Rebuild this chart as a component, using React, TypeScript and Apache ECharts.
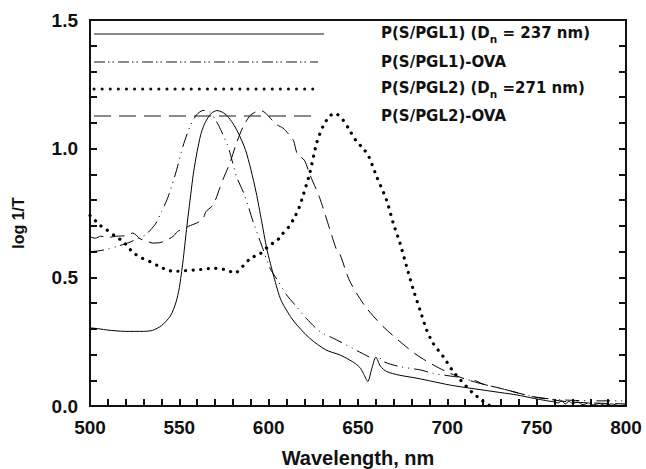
import React, { useEffect, useRef } from "react";
import * as echarts from "echarts";

// Wavelength (nm) vs log 1/T
const pgl1: [number, number][] = [
  [500, 0.304], [505, 0.3], [510, 0.295], [520, 0.29], [530, 0.29], [535, 0.294], [540, 0.312],
  [545, 0.35], [548, 0.4], [550, 0.46], [552, 0.56], [554, 0.685], [556, 0.8], [558, 0.91],
  [560, 0.99], [562, 1.055], [564, 1.095], [566, 1.12], [568, 1.138], [571, 1.148], [574, 1.142],
  [577, 1.126], [580, 1.098], [583, 1.061], [587, 0.996], [590, 0.92], [593, 0.83], [596, 0.72],
  [599, 0.61], [603, 0.5], [607, 0.41], [614, 0.33], [623, 0.263], [632, 0.218], [640, 0.198],
  [647, 0.172], [651, 0.15], [653, 0.127], [655.5, 0.095], [657.5, 0.14], [660, 0.19], [662.5, 0.155],
  [666, 0.134], [673, 0.12], [683, 0.108], [692, 0.095], [701, 0.082], [710, 0.072], [720, 0.062],
  [730, 0.052], [739, 0.043], [748, 0.03], [752, 0.025], [756, 0.02], [759, 0.017], [762, 0.012],
  [764, 0.02], [766, 0.008], [768, 0.018], [770, 0.01], [773, 0.015], [776, 0.005], [779, 0.012],
  [782, 0.004], [785, 0.01], [788, 0.003], [792, 0.008], [796, 0.002], [800, 0.004],
];

const pgl1Ova: [number, number][] = [
  [500, 0.6], [505, 0.603], [510, 0.61], [515, 0.62], [521, 0.633], [526, 0.648], [531, 0.665],
  [534, 0.685], [537, 0.711], [540, 0.755], [543, 0.8], [546, 0.86], [548.5, 0.918], [552, 1.009],
  [556, 1.087], [559.7, 1.132], [563.4, 1.149], [567, 1.142], [570, 1.115], [572, 1.09], [576.5, 1.022],
  [578.5, 0.98], [582, 0.892], [586, 0.828], [588.6, 0.776], [591.4, 0.714], [596, 0.626], [600.7, 0.536],
  [605.4, 0.484], [610, 0.432], [615.6, 0.386], [621, 0.341], [628.7, 0.289], [638, 0.257], [647, 0.224],
  [655, 0.195], [660, 0.18], [663, 0.185], [665, 0.17], [673.5, 0.153], [685, 0.14], [692, 0.127],
  [703, 0.115], [708, 0.11], [711, 0.101], [715, 0.1], [720, 0.085], [729.5, 0.069], [740, 0.05],
  [748, 0.036], [760, 0.026], [770, 0.022], [785, 0.02], [800, 0.02],
];

const pgl2: [number, number][] = [
  [500, 0.74], [503, 0.72], [506, 0.7], [509.3, 0.685], [514, 0.66], [518.6, 0.639], [524, 0.597],
  [529, 0.575], [533.6, 0.561], [538, 0.545], [543, 0.529], [547, 0.523], [552, 0.525], [560, 0.529],
  [569, 0.535], [576.5, 0.529], [581, 0.516], [585.8, 0.545], [590, 0.575], [595, 0.59], [600.7, 0.626],
  [604.4, 0.64], [607.2, 0.665], [611, 0.694], [614, 0.727], [617, 0.77], [619.4, 0.821], [623, 0.905],
  [627, 1.025], [630.6, 1.09], [634, 1.125], [637, 1.138], [641.8, 1.11], [645, 1.075], [649, 1.03],
  [653, 1.0], [656, 0.97], [660.4, 0.892], [666, 0.8], [669.7, 0.711], [673.5, 0.633], [677.2, 0.542],
  [681, 0.451], [684.7, 0.373], [688.4, 0.296], [692, 0.244], [697.7, 0.192], [703.3, 0.134],
  [710.8, 0.075], [714.5, 0.049], [719.2, 0.023], [722, 0.006], [726, 0],
];

const pgl2Ova: [number, number][] = [
  [500, 0.657], [503, 0.652], [506, 0.66], [510, 0.655], [515, 0.66], [520, 0.662], [524, 0.672],
  [528, 0.65], [532, 0.64], [535, 0.633], [539, 0.635], [542, 0.641], [546.5, 0.659], [549, 0.678],
  [552, 0.688], [555, 0.698], [560, 0.712], [563, 0.725], [565, 0.756], [569, 0.782], [572.7, 0.848],
  [575, 0.89], [578.3, 0.944], [582, 1.022], [585.8, 1.087], [589.5, 1.128], [592, 1.14], [595, 1.149],
  [598, 1.14], [601, 1.118], [604, 1.095], [608, 1.08], [612, 1.05], [614, 1.03], [616, 0.98],
  [620, 0.955], [623, 0.9], [628.5, 0.81], [634.3, 0.685], [638, 0.607], [640, 0.588], [643.6, 0.516],
  [645.5, 0.484], [649.2, 0.438], [654.8, 0.38], [664, 0.309], [673.5, 0.25], [683, 0.198], [692, 0.16],
  [701.5, 0.127], [714.5, 0.095], [729.5, 0.069], [748, 0.036], [758, 0.025], [766.7, 0.017],
  [780, 0.012], [790, 0.01], [800, 0.008],
];

const seriesNames = [
  "P(S/PGL1) (Dn = 237 nm)",
  "P(S/PGL1)-OVA",
  "P(S/PGL2) (Dn =271 nm)",
  "P(S/PGL2)-OVA",
];
const legendTexts = [
  "P(S/PGL1) (D{sub|n} = 237 nm)",
  "P(S/PGL1)-OVA",
  "P(S/PGL2) (D{sub|n} =271 nm)",
  "P(S/PGL2)-OVA",
];
const xAxisTitle = "Wavelength, nm";
const yAxisTitle = "log 1/T";
const xTicks = { min: 500, max: 800, interval: 50 };
const yTicks = { min: 0, max: 1.5, interval: 0.5 };

const FONT = "Liberation Sans, Arial, Helvetica, sans-serif";
const LEGEND_FONT = "DejaVu Sans, Liberation Sans, sans-serif";

export default function App() {
  const ref = useRef<HTMLDivElement>(null);
  useEffect(() => {
    if (!ref.current) return;
    const chart = echarts.init(ref.current, undefined, { renderer: "svg" });

    const axisLine = () => ({ show: true, onZero: false, lineStyle: { color: "#111", width: 2 } });
    const tick = () => ({ show: true, inside: true, length: 7, lineStyle: { color: "#111", width: 2 } });
    const minor = () => ({ show: true, splitNumber: 5, length: 7, lineStyle: { color: "#111", width: 2 } });

    const dashStyles: any[] = [
      { type: "solid", width: 1 },
      { type: [14, 5, 1, 5, 1, 5], width: 1 },
      { type: [0.1, 7.5], width: 3.2, cap: "round" },
      { type: [14, 7], width: 1 },
    ];
    const datasets = [pgl1, pgl1Ova, pgl2, pgl2Ova];

    const legendY = [34, 62, 89, 116];
    const legendEnd = [324, 318, 320, 312];
    const legendLine: any[] = [
      { stroke: "#8a8a8a", lineWidth: 2 },
      { stroke: "#8a8a8a", lineWidth: 2, lineDash: [11, 3, 1.5, 3, 1.5, 4] },
      { stroke: "#111", lineWidth: 3, lineDash: [0.1, 8], lineCap: "round" },
      { stroke: "#8a8a8a", lineWidth: 2, lineDash: [17, 8] },
    ];
    const textY = [33, 62, 88, 116];

    const graphic: any[] = [];
    legendY.forEach((y, i) => {
      graphic.push({
        type: "line",
        shape: { x1: 94, y1: y, x2: legendEnd[i], y2: y },
        style: legendLine[i],
        silent: true,
      });
      graphic.push({
        type: "text",
        x: 381,
        y: textY[i],
        style: {
          text: legendTexts[i],
          fill: "#111",
          fontSize: 15,
          fontWeight: "bold",
          fontFamily: LEGEND_FONT,
          verticalAlign: "middle",
          lineHeight: 22,
          rich: {
            sub: { fontSize: 10.5, lineHeight: 11, verticalAlign: "bottom", fontWeight: "bold", fontFamily: LEGEND_FONT, fill: "#111" },
          },
        },
      });
    });
    graphic.push({
      type: "text",
      x: 358,
      y: 458,
      style: { text: xAxisTitle, fill: "#111", fontSize: 20, fontWeight: "bold", fontFamily: FONT, align: "center", verticalAlign: "middle" },
    });
    graphic.push({
      type: "text",
      x: 18,
      y: 223,
      rotation: Math.PI / 2,
      style: { text: yAxisTitle, fill: "#111", fontSize: 16, fontWeight: "bold", fontFamily: FONT, align: "center", verticalAlign: "middle" },
    });

    chart.setOption({
      animation: false,
      backgroundColor: "#fff",
      grid: {
        left: 90, right: 20, top: 20, bottom: 63, containLabel: false,
        show: true, borderColor: "#111", borderWidth: 2, backgroundColor: "transparent",
      },
      xAxis: [
        {
          type: "value",
          ...xTicks,
          position: "bottom",
          axisLine: axisLine(),
          axisTick: tick(),
          minorTick: minor(),
          axisLabel: { color: "#111", fontWeight: "bold", fontSize: 19, fontFamily: FONT, margin: 12 },
          splitLine: { show: false },
        },
        {
          type: "value",
          ...xTicks,
          position: "top",
          axisLine: axisLine(),
          axisTick: { show: false },
          minorTick: { show: false },
          axisLabel: { show: false },
          splitLine: { show: false },
        },
      ],
      yAxis: [
        {
          type: "value",
          ...yTicks,
          position: "left",
          axisLine: axisLine(),
          axisTick: tick(),
          minorTick: minor(),
          axisLabel: {
            color: "#111", fontWeight: "bold", fontSize: 19, fontFamily: FONT, margin: 12,
            formatter: (v: number) => v.toFixed(1),
          },
          splitLine: { show: false },
        },
        {
          type: "value",
          ...yTicks,
          position: "right",
          axisLine: axisLine(),
          axisTick: tick(),
          minorTick: minor(),
          axisLabel: { show: false },
          splitLine: { show: false },
        },
      ],
      series: datasets.map((d, i) => ({
        type: "line",
        name: seriesNames[i],
        data: d,
        xAxisIndex: 0,
        yAxisIndex: 0,
        symbol: "none",
        smooth: 0.25,
        lineStyle: { color: "#000", ...dashStyles[i] },
        z: 3,
      })),
      graphic,
    });
    return () => chart.dispose();
  }, []);
  return (
    <div
      ref={ref}
      style={{ position: "fixed", left: 0, top: 0, width: 646, height: 469, background: "#fff" }}
    />
  );
}
